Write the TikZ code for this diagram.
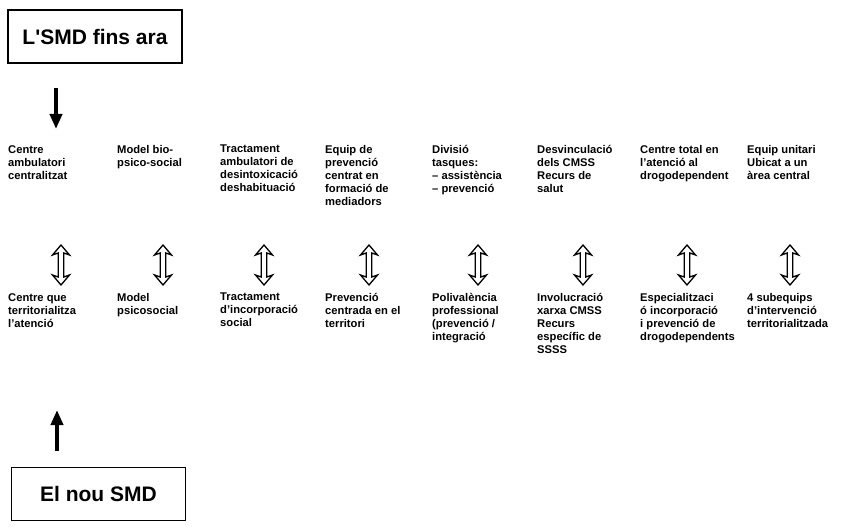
\documentclass[tikz,border=0pt]{standalone}
\usepackage{fontspec}
\setmainfont{Liberation Sans}
\usetikzlibrary{arrows.meta}
\begin{document}
\begin{tikzpicture}[x=1pt,y=-1pt,
  titlebox/.style={draw,line width=1.3pt,minimum width=174pt,minimum height=53pt,
    font=\bfseries\fontsize{21}{24}\selectfont,inner sep=0pt},
  item/.style={anchor=north west,align=left,inner sep=0pt,
    font=\bfseries\fontsize{11.2}{13}\selectfont},
  bigarrow/.style={line width=4.5pt,-{Triangle[length=15pt,width=12pt]}},
  dblarrow/.pic={\draw[line width=1.3pt,line join=miter]
    (0,0) -- (8.5,10) -- (2.8,8) -- (2.8,32) -- (8.5,30) -- (0,40)
    -- (-8.5,30) -- (-2.8,32) -- (-2.8,8) -- (-8.5,10) -- cycle;}]
\useasboundingbox (0,0) rectangle (843,529);

% the two system boxes
\node[titlebox] (old) at (95,36.5) {L\textquotesingle SMD fins ara};
\node[titlebox] (new) at (98.5,494) {El nou SMD};

% top row: the former model
\node[item] (t1) at (8,145)   {Centre\\ambulatori\\centralitzat};
\node[item] (t2) at (117,145) {Model bio-\\psico-social};
\node[item] (t3) at (220,145) {Tractament\\ambulatori de\\desintoxicació\\deshabituació};
\node[item] (t4) at (325,145) {Equip de\\prevenció\\centrat en\\formació de\\mediadors};
\node[item] (t5) at (432,145) {Divisió\\tasques:\\– assistència\\– prevenció};
\node[item] (t6) at (537,145) {Desvinculació\\dels CMSS\\Recurs de\\salut};
\node[item] (t7) at (640,145) {Centre total en\\l'atenció al\\drogodependent};
\node[item] (t8) at (747,145) {Equip unitari\\Ubicat a un\\àrea central};

% bottom row: the new model
\node[item] (b1) at (8,293)   {Centre que\\territorialitza\\l'atenció};
\node[item] (b2) at (117,293) {Model\\psicosocial};
\node[item] (b3) at (220,293) {Tractament\\d'incorporació\\social};
\node[item] (b4) at (325,293) {Prevenció\\centrada en el\\territori};
\node[item] (b5) at (432,293) {Polivalència\\professional\\(prevenció /\\integració};
\node[item] (b6) at (537,293) {Involucració\\xarxa CMSS\\Recurs\\específic de\\SSSS};
\node[item] (b7) at (640,293) {Especialitzaci\\ó incorporació\\i prevenció de\\drogodependents};
\node[item] (b8) at (747,293) {4 subequips\\d'intervenció\\territorialitzada};

% two-way arrows between the rows
\foreach \c in {61,163,264,369,478,583,687,790}
  \pic at (\c,245) {dblarrow};

% arrows from the boxes towards the rows
\coordinate (od) at (56,88);
\coordinate (oe) at (56,129);
\coordinate (nd) at (57,451);
\coordinate (ne) at (57,410);
\draw[bigarrow] (od) -- (oe);
\draw[bigarrow] (nd) -- (ne);
\end{tikzpicture}
\end{document}
